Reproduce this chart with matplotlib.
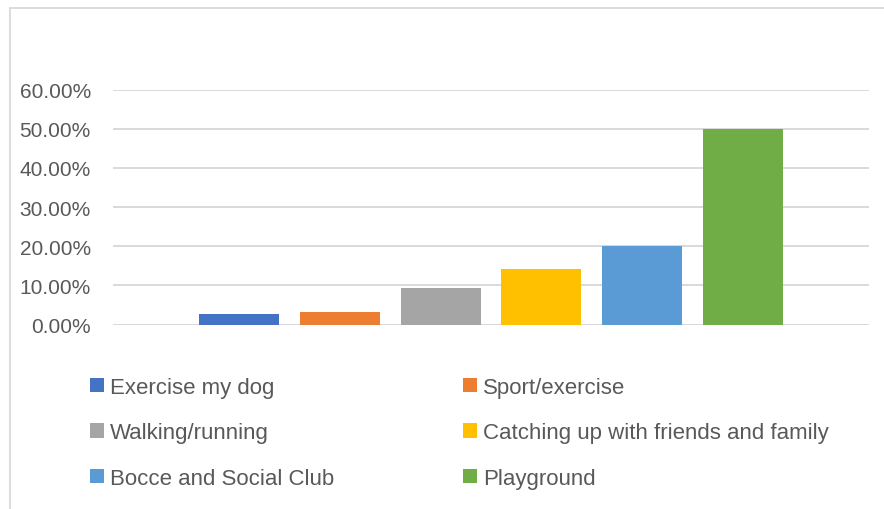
import matplotlib
matplotlib.use("Agg")
import matplotlib.pyplot as plt
from matplotlib.patches import Rectangle, Patch
from matplotlib.ticker import FuncFormatter

series = ["Exercise my dog", "Sport/exercise", "Walking/running",
          "Catching up with friends and family", "Bocce and Social Club", "Playground"]
values = [0.028, 0.033, 0.092, 0.143, 0.200, 0.500]
colors = ["#4472C4", "#ED7D31", "#A5A5A5", "#FFC000", "#5B9BD5", "#70AD47"]
yticks = [0.0, 0.1, 0.2, 0.3, 0.4, 0.5, 0.6]

W, H = 884, 510
fig = plt.figure(figsize=(W / 100, H / 100), dpi=100)
plt.rcParams['font.family'] = ['Liberation Sans', 'DejaVu Sans']
txt = "#595959"
grid = "#D9D9D9"

# chart border (only top and left visible)
fig.add_artist(Rectangle((9.5 / W, -0.1), 1.2, (H - 8.5) / H + 0.1,
                         transform=fig.transFigure, fill=False,
                         edgecolor=grid, linewidth=1.3, clip_on=False))

left, right = 113, 869
y0, y60 = 325.5, 90.7
ax = fig.add_axes([left / W, (H - y0) / H, (right - left) / W, (y0 - y60) / H])

pitch = 100.7
half = (right - left) / 2 / pitch
n = len(values)
xs = [i - (n - 1) / 2 for i in range(n)]
for x, v, c, s in zip(xs, values, colors, series):
    ax.bar(x, v, width=80 / pitch, color=c, label=s, zorder=3)

ax.set_xlim(-half, half)
ax.set_ylim(0, 0.6)
ax.set_yticks(yticks)
ax.yaxis.set_major_formatter(FuncFormatter(lambda v, p: f"{v*100:.2f}%"))
ax.set_xticks([])
ax.grid(axis="y", color=grid, linewidth=1.4, zorder=0)
ax.tick_params(axis="y", length=0, pad=16, labelsize=15, labelcolor=txt)
for sp in ax.spines.values():
    sp.set_visible(False)
ax.axhline(0, color=grid, linewidth=1.4, zorder=1)

handles = [Patch(facecolor=c, edgecolor="none") for c in colors]
common = dict(loc="upper left", frameon=False, fontsize=16, labelcolor=txt,
              handlelength=0.63, handleheight=0.63, handletextpad=0.28,
              labelspacing=1.1, borderpad=0, borderaxespad=0)
fig.legend(handles[0::2], series[0::2], bbox_to_anchor=(90 / W, (H - 378) / H), **common)
fig.legend(handles[1::2], series[1::2], bbox_to_anchor=(463 / W, (H - 378) / H), **common)

fig.savefig("out.png", dpi=100)
